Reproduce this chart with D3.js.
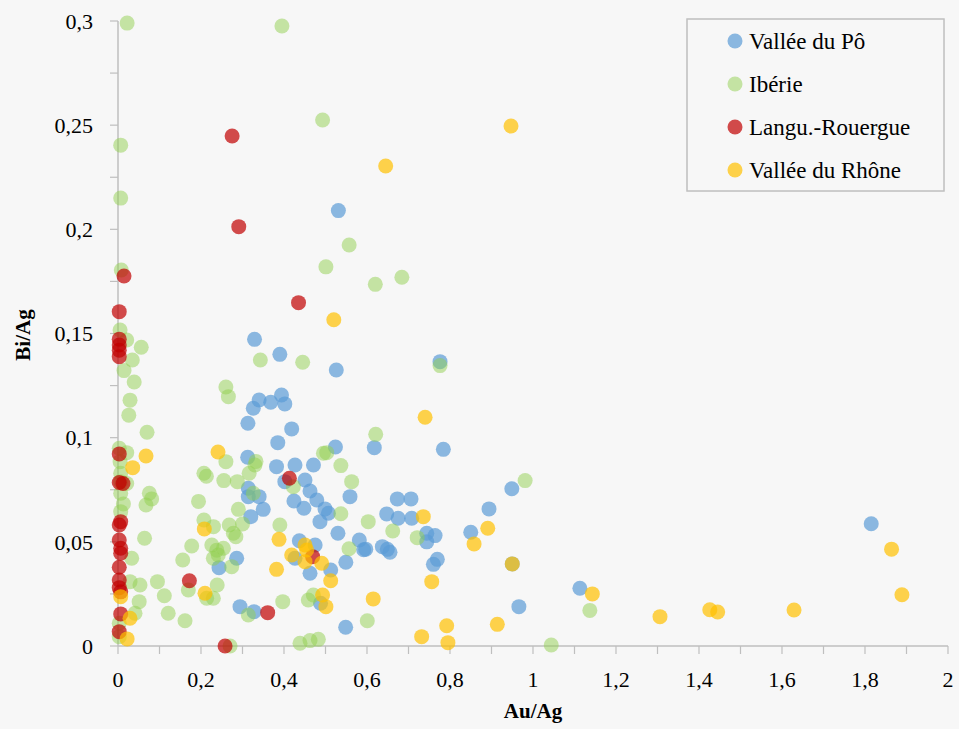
<!DOCTYPE html>
<html>
<head>
<meta charset="utf-8">
<script src="https://cdn.jsdelivr.net/npm/d3@7"></script>
<style>
html,body{margin:0;padding:0;background:#f7f7f7;}
svg{display:block;}
text{font-family:"Liberation Serif","DejaVu Serif",serif;fill:#000;}
</style>
</head>
<body>
<svg id="chart" width="959" height="729"></svg>
<script>
// ---- DATA (Au/Ag, Bi/Ag) ----
const seriesNames = ["Vallée du Pô", "Ibérie", "Langu.-Rouergue", "Vallée du Rhône"];

const valleePo = [
  [0.531,0.209],[0.329,0.1472],[0.390,0.140],[0.776,0.1365],[0.526,0.1325],
  [0.340,0.1181],[0.368,0.117],[0.394,0.1205],[0.402,0.1162],[0.326,0.1141],
  [0.313,0.1069],[0.4185,0.1042],[0.385,0.0976],[0.3125,0.0906],[0.382,0.0861],
  [0.4265,0.0869],[0.471,0.0869],[0.524,0.0955],[0.6176,0.0952],[0.784,0.0944],
  [0.402,0.0789],[0.4506,0.0797],[0.4627,0.0744],[0.479,0.0701],[0.424,0.0696],
  [0.448,0.0661],[0.314,0.0757],[0.314,0.0717],[0.340,0.0717],[0.350,0.0656],
  [0.320,0.0621],[0.4988,0.0658],[0.507,0.0637],[0.4867,0.0597],[0.559,0.0717],
  [0.673,0.0706],[0.706,0.0706],[0.6475,0.0634],[0.675,0.0613],[0.7077,0.0613],
  [0.530,0.0541],[0.437,0.0505],[0.4265,0.0421],[0.475,0.0485],[0.4627,0.0349],
  [0.286,0.0421],[0.2434,0.0376],[0.294,0.0189],[0.3277,0.0165],[0.5815,0.0509],
  [0.592,0.0462],[0.597,0.0465],[0.637,0.0477],[0.6554,0.045],[0.649,0.0464],
  [0.549,0.0402],[0.5125,0.0365],[0.488,0.0205],[0.5486,0.009],[0.744,0.0541],
  [0.764,0.053],[0.744,0.050],[0.894,0.0658],[0.949,0.0755],[0.850,0.0546],
  [0.950,0.0394],[0.760,0.0392],[0.7695,0.0416],[0.966,0.0189],[1.113,0.0277],
  [1.815,0.0587]
];

const iberie = [
  [0.022,0.299],[0.395,0.2976],[0.493,0.2525],[0.0065,0.2404],[0.0065,0.215],
  [0.557,0.1925],[0.501,0.182],[0.620,0.1736],[0.684,0.177],[0.445,0.1362],
  [0.776,0.1346],[0.008,0.1805],[0.005,0.1517],[0.021,0.1469],[0.056,0.1434],
  [0.0345,0.1373],[0.0145,0.1322],[0.039,0.1267],[0.029,0.118],[0.026,0.1108],
  [0.070,0.1026],[0.343,0.1373],[0.260,0.1243],[0.266,0.1197],[0.003,0.0949],
  [0.021,0.0928],[0.005,0.0885],[0.0065,0.0829],[0.0065,0.0789],[0.021,0.078],
  [0.0065,0.0733],[0.0755,0.0733],[0.081,0.0706],[0.0675,0.0677],[0.013,0.0682],
  [0.0065,0.0645],[0.064,0.0517],[0.033,0.0421],[0.029,0.0309],[0.053,0.0293],
  [0.051,0.0213],[0.041,0.0157],[0.003,0.0109],[0.003,0.0045],[0.095,0.0309],
  [0.1116,0.0241],[0.121,0.0157],[0.1615,0.0121],[0.156,0.0413],[0.1776,0.048],
  [0.194,0.0694],[0.207,0.0829],[0.213,0.0815],[0.260,0.0885],[0.255,0.0794],
  [0.2875,0.0789],[0.316,0.0829],[0.330,0.0869],[0.3325,0.0886],[0.326,0.0733],
  [0.290,0.0656],[0.300,0.0586],[0.268,0.0581],[0.278,0.0541],[0.284,0.0525],
  [0.207,0.0605],[0.230,0.0573],[0.226,0.0485],[0.238,0.046],[0.2416,0.0437],
  [0.2297,0.0421],[0.254,0.0469],[0.274,0.0381],[0.1695,0.0269],[0.2137,0.0229],
  [0.2297,0.0229],[0.239,0.0293],[0.397,0.0213],[0.314,0.0149],[0.270,0.0],
  [0.4386,0.0013],[0.4627,0.0026],[0.4827,0.0032],[0.495,0.0925],[0.503,0.0928],
  [0.4225,0.0765],[0.390,0.0581],[0.4586,0.0221],[0.4707,0.0245],[0.537,0.0635],
  [0.621,0.1016],[0.537,0.0866],[0.563,0.0789],[0.603,0.0597],[0.662,0.0552],
  [0.721,0.052],[0.981,0.0794],[0.5566,0.0467],[0.6007,0.0121],[1.044,0.0005],
  [1.137,0.0171]
];

const languRouergue = [
  [0.275,0.2448],[0.291,0.2013],[0.435,0.1648],[0.0145,0.1776],[0.003,0.1605],
  [0.003,0.1473],[0.003,0.1445],[0.003,0.142],[0.003,0.1389],[0.003,0.0922],
  [0.003,0.0785],[0.012,0.078],[0.0065,0.0597],[0.003,0.0581],[0.003,0.0509],
  [0.0065,0.0469],[0.0065,0.0445],[0.003,0.0378],[0.003,0.0317],[0.003,0.028],
  [0.0065,0.026],[0.0065,0.0154],[0.003,0.0069],[0.172,0.0313],[0.3607,0.016],
  [0.258,0.0],[0.413,0.0805],[0.469,0.0429]
];

const valleeRhone = [
  [0.947,0.2496],[0.645,0.2304],[0.520,0.1566],[0.740,0.1098],[0.0675,0.0912],
  [0.0354,0.0856],[0.241,0.0931],[0.208,0.0562],[0.388,0.0512],[0.382,0.0368],
  [0.2096,0.0253],[0.0065,0.0237],[0.029,0.0133],[0.022,0.0034],[0.4506,0.0485],
  [0.4547,0.0461],[0.4185,0.0437],[0.4506,0.0405],[0.4908,0.0397],[0.5125,0.0313],
  [0.493,0.0245],[0.501,0.0189],[0.615,0.0226],[0.7357,0.0621],[0.891,0.0565],
  [0.858,0.049],[0.950,0.0394],[0.756,0.0309],[0.7317,0.0045],[0.792,0.0097],
  [0.795,0.0016],[0.914,0.0104],[1.143,0.025],[1.306,0.0141],[1.426,0.0174],
  [1.445,0.0163],[1.629,0.0173],[1.864,0.0465],[1.889,0.0246]
];

const xTickValues = [0,0.2,0.4,0.6,0.8,1,1.2,1.4,1.6,1.8,2];
const xTickLabels = ["0","0,2","0,4","0,6","0,8","1","1,2","1,4","1,6","1,8","2"];
const yTickValues = [0,0.05,0.1,0.15,0.2,0.25,0.3];
const yTickLabels = ["0","0,05","0,1","0,15","0,2","0,25","0,3"];
const xAxisTitle = "Au/Ag";
const yAxisTitle = "Bi/Ag";

// ---- STYLE ----
const colors = ["#5b9bd5","#92d050","#c00000","#ffc000"];
const opac = [0.7,0.5,0.7,0.7];
const allSeries = [valleePo, iberie, languRouergue, valleeRhone];

const svg = d3.select("#chart");
const x = d3.scaleLinear().domain([0,2]).range([118,948]);
const y = d3.scaleLinear().domain([0,0.3]).range([646,21]);
const axisColor = "#bfbfbf";

// X axis
const xAxis = svg.append("g").attr("transform","translate(0,646)");
xAxis.append("line").attr("x1",x(0)).attr("x2",x(2)).attr("stroke",axisColor).attr("stroke-width",1.5);
xAxis.selectAll("line.t").data(d3.range(0,21).map(i=>i/10)).enter().append("line")
  .attr("class","t").attr("x1",d=>x(d)).attr("x2",d=>x(d)).attr("y1",0).attr("y2",8)
  .attr("stroke",axisColor).attr("stroke-width",1.2);
xAxis.selectAll("text").data(xTickValues).enter().append("text")
  .attr("x",d=>x(d)).attr("y",41).attr("text-anchor","middle")
  .style("font-size","22px").text((d,i)=>xTickLabels[i]);

// Y axis
const yAxis = svg.append("g").attr("transform","translate(118,0)");
yAxis.append("line").attr("y1",y(0)).attr("y2",y(0.3)).attr("stroke",axisColor).attr("stroke-width",1.5);
yAxis.selectAll("line.t").data(d3.range(0,13).map(i=>i*0.025)).enter().append("line")
  .attr("class","t").attr("y1",d=>y(d)).attr("y2",d=>y(d)).attr("x1",-8).attr("x2",0)
  .attr("stroke",axisColor).attr("stroke-width",1.2);
yAxis.selectAll("text").data(yTickValues).enter().append("text")
  .attr("x",-25).attr("y",d=>y(d)).attr("dy","0.35em").attr("text-anchor","end")
  .style("font-size","22px").text((d,i)=>yTickLabels[i]);

// Axis titles
svg.append("text").attr("x",x(1)).attr("y",718).attr("text-anchor","middle")
  .style("font-size","21px").style("font-weight","bold").text(xAxisTitle);
svg.append("text").attr("transform","translate(30,335) rotate(-90)").attr("text-anchor","middle")
  .style("font-size","21px").style("font-weight","bold").text(yAxisTitle);

// Points
allSeries.forEach((data,si)=>{
  svg.append("g").selectAll("circle").data(data).enter().append("circle")
    .attr("cx",d=>x(d[0])).attr("cy",d=>y(d[1])).attr("r",7.5)
    .attr("fill",colors[si]).attr("fill-opacity",opac[si]);
});

// Legend
const lg = svg.append("g");
lg.append("rect").attr("x",687).attr("y",19).attr("width",257).attr("height",172)
  .attr("fill","#f7f7f7").attr("stroke",axisColor).attr("stroke-width",1.5);
seriesNames.forEach((n,i)=>{
  const cy = 41 + i*43;
  lg.append("circle").attr("cx",735).attr("cy",cy).attr("r",7.5)
    .attr("fill",colors[i]).attr("fill-opacity",opac[i]);
  lg.append("text").attr("x",749).attr("y",cy).attr("dy","0.35em")
    .style("font-size","23px").text(n);
});
</script>
</body>
</html>
